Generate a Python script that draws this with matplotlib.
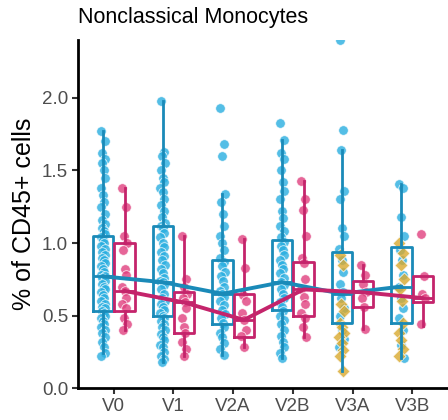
import numpy as np
import matplotlib
matplotlib.use('Agg')
import matplotlib.pyplot as plt

plt.rcParams['font.family'] = ['Liberation Sans', 'DejaVu Sans']

visits = ['V0', 'V1', 'V2A', 'V2B', 'V3A', 'V3B']

# box stats: (whislo, q1, med, q3, whishi)
blue_stats = [(0.24, 0.53, 0.77, 1.05, 1.77),
              (0.18, 0.50, 0.73, 1.12, 1.98),
              (0.23, 0.44, 0.65, 0.88, 1.34),
              (0.21, 0.54, 0.73, 1.02, 1.71),
              (0.12, 0.45, 0.65, 0.94, 1.64),
              (0.21, 0.45, 0.70, 0.97, 1.41)]
pink_stats = [(0.40, 0.53, 0.67, 1.00, 1.38),
              (0.22, 0.38, 0.59, 0.66, 1.05),
              (0.28, 0.35, 0.47, 0.65, 1.03),
              (0.35, 0.50, 0.68, 0.87, 1.43),
              (0.41, 0.56, 0.66, 0.74, 0.85),
              (0.43, 0.59, 0.62, 0.77, 0.77)]

blue_points = [
    [1.77, 1.70, 1.62, 1.58, 1.55, 1.50, 1.45, 1.38, 1.33, 1.28, 1.25, 1.20, 1.16, 1.13, 1.10,
     1.08, 1.06, 1.04, 1.02, 1.00, 0.98, 0.96, 0.94, 0.92, 0.90, 0.88, 0.86, 0.84, 0.82, 0.80,
     0.78, 0.77, 0.76, 0.74, 0.72, 0.70, 0.68, 0.66, 0.64, 0.62, 0.60, 0.58, 0.56, 0.55, 0.53,
     0.52, 0.50, 0.48, 0.46, 0.44, 0.42, 0.40, 0.38, 0.35, 0.32, 0.28, 0.24, 0.22],
    [1.98, 1.63, 1.60, 1.55, 1.50, 1.45, 1.42, 1.38, 1.35, 1.30, 1.26, 1.22, 1.18, 1.14, 1.12,
     1.10, 1.07, 1.04, 1.00, 0.97, 0.94, 0.91, 0.88, 0.85, 0.82, 0.79, 0.76, 0.74, 0.73, 0.71,
     0.68, 0.65, 0.62, 0.60, 0.58, 0.56, 0.54, 0.52, 0.50, 0.48, 0.46, 0.44, 0.42, 0.40, 0.37,
     0.35, 0.33, 0.30, 0.28, 0.25, 0.22, 0.20, 0.18],
    [1.93, 1.68, 1.60, 1.34, 1.28, 1.20, 1.12, 1.05, 1.00, 0.95, 0.90, 0.87, 0.84, 0.80, 0.77,
     0.74, 0.70, 0.67, 0.65, 0.63, 0.60, 0.57, 0.54, 0.51, 0.48, 0.45, 0.42, 0.38, 0.35, 0.31,
     0.27, 0.23],
    [1.83, 1.71, 1.62, 1.58, 1.50, 1.42, 1.36, 1.30, 1.22, 1.17, 1.12, 1.08, 1.04, 1.01, 0.98,
     0.95, 0.92, 0.88, 0.85, 0.82, 0.79, 0.76, 0.73, 0.71, 0.68, 0.65, 0.62, 0.59, 0.56, 0.53,
     0.50, 0.47, 0.44, 0.40, 0.36, 0.32, 0.28, 0.24, 0.21],
    [2.40, 1.78, 1.64, 1.36, 1.30, 1.10, 1.05, 0.96, 0.88, 0.80, 0.72, 0.66, 0.62, 0.55, 0.50,
     0.40, 0.34, 0.28],
    [1.41, 1.38, 1.18, 1.05, 0.95, 0.88, 0.78, 0.70, 0.62, 0.55, 0.48, 0.40, 0.30, 0.21],
]
gold_points = [
    [], [], [], [],
    [0.92, 0.85, 0.58, 0.53, 0.45, 0.42, 0.38, 0.35, 0.31, 0.26, 0.22, 0.12],
    [1.00, 0.93, 0.85, 0.75, 0.68, 0.60, 0.45, 0.38, 0.33, 0.27, 0.22],
]
pink_points = [
    [1.38, 1.25, 1.05, 1.00, 0.95, 0.82, 0.78, 0.70, 0.67, 0.62, 0.58, 0.55, 0.48, 0.44, 0.40],
    [1.05, 0.75, 0.70, 0.65, 0.62, 0.59, 0.55, 0.48, 0.42, 0.38, 0.32, 0.27, 0.22],
    [1.03, 0.83, 0.64, 0.60, 0.52, 0.47, 0.40, 0.36, 0.28],
    [1.43, 1.30, 1.23, 1.05, 0.90, 0.86, 0.75, 0.68, 0.63, 0.58, 0.52, 0.48, 0.42, 0.35],
    [0.85, 0.78, 0.72, 0.66, 0.62, 0.56, 0.41],
    [1.06, 0.77, 0.65, 0.62, 0.44],
]

BLUE_PT, BLUE_BOX = '#29aee0', '#1a8ab8'
PINK_PT, PINK_BOX = '#e0407f', '#c4246b'
GOLD_PT = '#d9a92e'

JITTER = [-0.035, 0.025, -0.01, 0.04, -0.025, 0.01, 0.03, -0.04, 0.0, 0.02]


def jitter_x(center, n):
    return [center + JITTER[i % len(JITTER)] for i in range(n)]


def to_bxp(stats):
    return [dict(whislo=s[0], q1=s[1], med=s[2], q3=s[3], whishi=s[4], fliers=[])
            for s in stats]


fig = plt.figure(figsize=(4.48, 4.20), dpi=100)
ax = fig.add_axes([0.174, 0.076, 0.826, 0.829])

x = np.arange(len(visits))
off, width = 0.18, 0.34

for i in range(len(visits)):
    bx = x[i] - off
    px = x[i] + off
    ax.scatter(jitter_x(bx, len(blue_points[i])), blue_points[i], s=48, color=BLUE_PT,
               alpha=0.8, edgecolor='white', linewidth=0.6, zorder=2)
    if gold_points[i]:
        ax.scatter(jitter_x(bx, len(gold_points[i])), gold_points[i], s=44, marker='D',
                   color=GOLD_PT, alpha=0.8, edgecolor='white', linewidth=0.6, zorder=2)
    ax.scatter(jitter_x(px, len(pink_points[i])), pink_points[i], s=48, color=PINK_PT,
               alpha=0.8, edgecolor='white', linewidth=0.6, zorder=2)

for stats, pos, col in [(blue_stats, x - off, BLUE_BOX), (pink_stats, x + off, PINK_BOX)]:
    line_kw = dict(color=col, linewidth=2.0)
    ax.bxp(to_bxp(stats), positions=pos, widths=width, showfliers=False, showcaps=False,
           patch_artist=False, boxprops=line_kw, whiskerprops=line_kw,
           medianprops=dict(color=col, linewidth=2.0), manage_ticks=False, zorder=3)
    ax.plot(pos, [s[2] for s in stats], color=col, linewidth=2.8, zorder=4,
            solid_capstyle='round')

ax.set_xlim(-0.6, 5.6)
ax.set_ylim(0, 2.4)
ax.set_xticks(x)
ax.set_xticklabels(visits)
ax.set_yticks([0.0, 0.5, 1.0, 1.5, 2.0])
ax.set_yticklabels(['0.0', '0.5', '1.0', '1.5', '2.0'])
ax.tick_params(axis='both', labelsize=13.5, labelcolor='#4d4d4d', length=4, width=1.5,
               color='#333333', pad=3)
for side in ['top', 'right']:
    ax.spines[side].set_visible(False)
for side in ['left', 'bottom']:
    ax.spines[side].set_linewidth(2.0)
    ax.spines[side].set_color('black')

ax.set_ylabel('% of CD45+ cells', fontsize=18, labelpad=4)
ax.set_title('Nonclassical Monocytes', loc='left', fontsize=15.5, pad=12)

fig.savefig('out.png', dpi=100)
